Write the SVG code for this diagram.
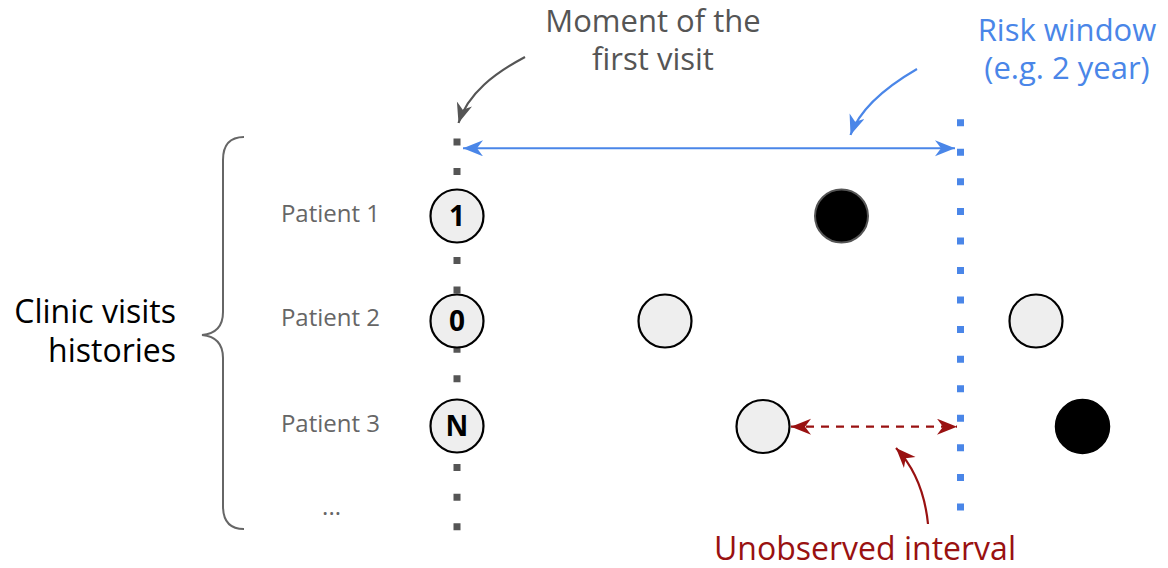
<svg xmlns="http://www.w3.org/2000/svg" width="1168" height="568" viewBox="0 0 1168 568">
<style>
text{font-family:"Open Sans","Liberation Sans",sans-serif;}
.t{font-size:31px;}
.pl{font-size:24px;fill:#666;text-anchor:end;}
.num{font-size:28px;font-weight:bold;fill:#000;text-anchor:middle;}
.cw{fill:#eeeeee;stroke:#000;stroke-width:2.2;}
.cb{fill:#000;stroke:#000;stroke-width:1.5;}
</style>
<defs>
<marker id="ab" markerUnits="userSpaceOnUse" markerWidth="22" markerHeight="18" refX="20" refY="8" orient="auto-start-reverse" viewBox="0 0 22 18"><path d="M0,0 L20,8 L0,16 L6,8 z" fill="#4a86e8"/></marker>
<marker id="ar" markerUnits="userSpaceOnUse" markerWidth="22" markerHeight="18" refX="20" refY="8" orient="auto-start-reverse" viewBox="0 0 22 18"><path d="M0,0 L20,8 L0,16 L6,8 z" fill="#991111"/></marker>
<marker id="ag" markerUnits="userSpaceOnUse" markerWidth="22" markerHeight="18" refX="20" refY="8" orient="auto-start-reverse" viewBox="0 0 22 18"><path d="M0,0 L20,8 L0,16 L6,8 z" fill="#555"/></marker>
</defs>

<g id="timelines">
<line x1="457" y1="138.5" x2="457" y2="531" stroke="#555" stroke-width="7" stroke-dasharray="7 22.6"/>
<line x1="960.5" y1="119.2" x2="960.5" y2="511" stroke="#4a86e8" stroke-width="7" stroke-dasharray="7 22.56"/>
</g>

<g id="brace">
<path d="M244,137 Q223,137 223,160 L223,312 Q223,333 202,335 Q223,337 223,358 L223,506 Q223,529 244,529" fill="none" stroke="#666" stroke-width="2"/>
</g>

<g id="labels">
<text x="176" y="323" font-size="32" text-anchor="end" fill="#000">Clinic visits</text>
<text x="176" y="362" font-size="32" text-anchor="end" fill="#000">histories</text>
<text class="pl" x="380" y="222">Patient 1</text>
<text class="pl" x="380" y="326">Patient 2</text>
<text class="pl" x="380" y="432">Patient 3</text>
<text class="pl" x="341" y="515">...</text>
<text class="t" x="653" y="32" text-anchor="middle" fill="#555">Moment of the</text>
<text class="t" x="653" y="70" text-anchor="middle" fill="#555">first visit</text>
<text class="t" x="1067" y="41" text-anchor="middle" fill="#4a86e8">Risk window</text>
<text class="t" x="1067" y="79" text-anchor="middle" fill="#4a86e8">(e.g. 2 year)</text>
<text x="865" y="560" font-size="32" text-anchor="middle" fill="#991111">Unobserved interval</text>
</g>

<g id="patient1">
<circle class="cw" cx="457" cy="216" r="26.5"/>
<text class="num" x="457" y="226">1</text>
<circle cx="841.5" cy="216" r="26.5" fill="#000" stroke="#555" stroke-width="2"/>
</g>

<g id="patient2">
<circle class="cw" cx="457" cy="321" r="26.5"/>
<text class="num" x="457" y="331">0</text>
<circle class="cw" cx="665" cy="321" r="26.5"/>
<circle class="cw" cx="1036" cy="321" r="26.5"/>
</g>

<g id="patient3">
<circle class="cw" cx="457" cy="426" r="26.5"/>
<text class="num" x="457" y="436">N</text>
<circle class="cw" cx="763" cy="426.5" r="26.5"/>
<circle class="cb" cx="1082.5" cy="426.5" r="27"/>
</g>

<g id="connectors" fill="none">
<line x1="463" y1="148.3" x2="955" y2="148.3" stroke="#4a86e8" stroke-width="2" marker-start="url(#ab)" marker-end="url(#ab)"/>
<line x1="791" y1="426.7" x2="957" y2="426.7" stroke="#991111" stroke-width="2.2" stroke-dasharray="8 7" marker-start="url(#ar)" marker-end="url(#ar)"/>
<path d="M525,57 C495,73 468,93 458.5,123" stroke="#555" stroke-width="2.2" marker-end="url(#ag)"/>
<path d="M917,69 C886,87 860,108 850.5,135" stroke="#4a86e8" stroke-width="2.2" marker-end="url(#ab)"/>
<path d="M928,524 C925,494 914,467 896,448" stroke="#991111" stroke-width="2.2" marker-end="url(#ar)"/>
</g>
</svg>
